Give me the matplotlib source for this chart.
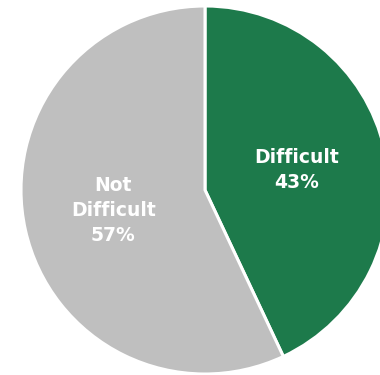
import matplotlib
matplotlib.use("Agg")
import matplotlib.pyplot as plt

labels = ["Difficult", "Not\nDifficult"]
shares = [43, 57]
colors = ["#1D7A4B", "#BFBFBF"]


def make_label(pct):
    # match the share back to its category name
    idx = min(range(len(shares)), key=lambda i: abs(shares[i] - pct))
    return "{}\n{:.0f}%".format(labels[idx], pct)


fig = plt.figure(figsize=(3.8, 3.75), dpi=100)
ax = fig.add_axes([0, 0, 1, 1])
ax.pie(shares, colors=colors, startangle=90, counterclock=False,
       center=(205, 185), radius=184, autopct=make_label, pctdistance=0.51,
       wedgeprops=dict(edgecolor="white", linewidth=2.2),
       textprops=dict(color="white", fontsize=13.5, fontweight="bold",
                      linespacing=1.4))
ax.set_xlim(0, 380)
ax.set_ylim(0, 375)
ax.set_aspect("equal")
ax.axis("off")
fig.savefig("out.png", dpi=100)
